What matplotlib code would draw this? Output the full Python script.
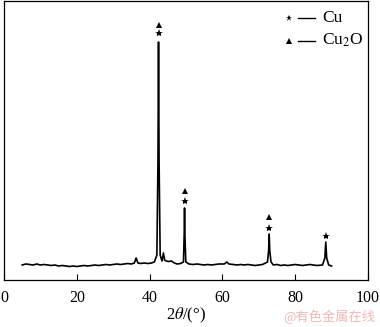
import numpy as np
import matplotlib
matplotlib.use("Agg")
import matplotlib.pyplot as plt

# XRD pattern (2theta in degrees, intensity in arbitrary units)
two_theta = [5.0, 6, 7, 8, 9, 10, 11, 12, 13, 14, 15, 16, 17, 18, 19, 20, 21, 22, 23, 24,
             25, 26, 27, 28, 29, 30, 31, 32, 33, 34, 35, 35.8, 36.3, 36.8, 37.5, 38.5, 39.5,
             40.5, 41.3, 42.0, 42.3, 42.45, 42.6, 42.9, 43.4, 43.8, 44.1, 44.6, 45.3, 46,
             46.8, 47.6, 48.5, 49.3, 49.5, 49.6, 49.7, 49.95, 50.8, 52, 53, 54, 55, 56, 57,
             58, 59, 60.5, 61.2, 61.8, 63, 64, 65, 66, 67, 68, 69, 70, 71, 72.4, 72.7, 72.85,
             73.0, 73.35, 74, 75, 76, 77, 78, 79, 80, 81, 82, 83, 84, 85, 86, 87.5, 88.15,
             88.4, 88.65, 89.2, 90]
intensity = [15, 16, 15.5, 15, 16, 15, 15.5, 15, 14.5, 15, 14, 14.5, 14, 13.5, 14, 13.5,
             14, 14.5, 14, 14.5, 15, 14.5, 15, 15.5, 15, 15.5, 16, 15.5, 16, 16.5, 16, 17,
             22, 17, 16.5, 17, 16.5, 17, 18, 25, 120, 238, 120, 25, 19, 27, 20, 19, 18.5,
             19, 17, 16, 16.5, 18, 45, 72, 45, 18, 16, 15.5, 16, 15.5, 15, 15.5, 15, 15.5,
             16, 16, 18, 16, 15.5, 15, 15.5, 15, 15.5, 15, 14.5, 15, 15.5, 18, 30, 46, 30,
             18, 15, 15.5, 14.5, 15, 14.5, 15, 15.5, 15, 14.5, 15, 15.5, 15, 14.5, 15, 22,
             38, 22, 15, 14]

# phase markers above the peaks
cu_x = [42.45, 49.6, 72.85, 88.4]
cu_y = [247, 79, 52, 44]
cu2o_x = [42.45, 49.6, 72.85]
cu2o_y = [255, 89, 63]

plt.rcParams['font.family'] = ['Liberation Serif', 'DejaVu Serif']
plt.rcParams['mathtext.fontset'] = 'stix'

fig = plt.figure(figsize=(3.8, 3.27), dpi=100)
ax = fig.add_axes([4 / 380, 47 / 327, 364 / 380, 279 / 327])

ax.plot(two_theta, intensity, color="black", lw=1.2)
ax.plot(cu_x, cu_y, ls="none", marker="*", ms=6, mew=0, color="black")
ax.plot(cu2o_x, cu2o_y, ls="none", marker="^", ms=4.5, mew=0, color="black")

ax.set_xlim(0, 100)
ax.set_ylim(0, 279)
ax.set_xticks([0, 20, 40, 60, 80, 100])
ax.set_yticks([])
ax.tick_params(axis="x", direction="in", length=4, labelsize=11.5, pad=7)
ax.set_xlabel(r"2$\theta$/(°)", fontsize=12, labelpad=0)
for s in ax.spines.values():
    s.set_linewidth(0.9)

# legend drawn by hand
for i, (mk, lab) in enumerate([("*", "Cu"), ("^", r"Cu$_2$O")]):
    yy = 0.94 - i * 0.082
    ax.plot([0.782], [yy], marker=mk, ms=5 if mk == "*" else 4, mew=0, color="black",
            transform=ax.transAxes, clip_on=False)
    ax.plot([0.807, 0.855], [yy, yy], color="black", lw=1, transform=ax.transAxes)
    ax.text(0.873, yy, lab, transform=ax.transAxes, va="center", ha="left", fontsize=12.5)

fig.text(0.988, 0.032, "@有色金属在线", ha="right", va="center", fontsize=9.5,
         color="#f2b8b8", family=["Noto Sans CJK SC", "DejaVu Sans"])

fig.savefig("out.png", dpi=100)
